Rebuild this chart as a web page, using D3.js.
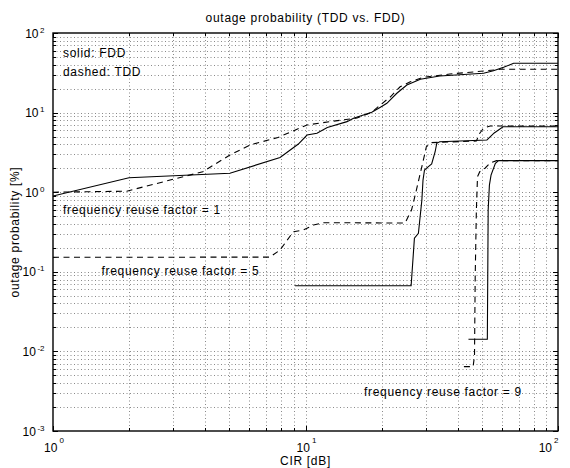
<!DOCTYPE html>
<html><head><meta charset="utf-8">
<script src="https://cdn.jsdelivr.net/npm/d3@7"></script>
<style>
body{margin:0;background:#fff}
text{font-family:"Liberation Sans",Arial,Helvetica,sans-serif;fill:#000}
</style>
</head><body><svg id="c" width="570" height="468"></svg>
<script>
// ---- data (CIR [dB] vs outage probability [%]) ----
const fdd1_cir = [1, 2, 5.02, 7.93, 9.37, 10.14, 11.1, 12.2, 14.6, 15.5, 18.3, 19.8, 21.0, 23.0, 25.2, 28.5, 34.0, 50.7, 55.5, 60.9, 66.7, 100];
const fdd1_out = [0.895, 1.52, 1.73, 2.73, 4.03, 5.23, 5.5, 6.5, 7.7, 8.47, 10.1, 11.7, 13.1, 17.5, 22.2, 26.2, 28.8, 31.2, 33.6, 37.1, 41.6, 41.6];

const tdd1_cir = [1, 1.96, 3.92, 5.02, 6.03, 7.78, 10.14, 12.5, 16.0, 18.3, 19.8, 21.7, 23.7, 26.0, 29.2, 37.3, 52.3, 59.1, 100];
const tdd1_out = [1.0, 1.03, 1.81, 2.93, 3.92, 4.87, 6.98, 7.7, 8.55, 10.1, 12.5, 15.8, 21.1, 24.4, 27.7, 30.5, 33.6, 35.0, 35.0];

const fdd5_cir = [9.09, 26.2, 27.0, 28.0, 28.9, 29.2, 29.6, 30.5, 31.6, 32.6, 33.1, 34.0, 52.3, 55.9, 60.6, 100];
const fdd5_out = [0.0668, 0.0668, 0.264, 0.305, 0.798, 1.42, 1.9, 2.07, 2.26, 3.2, 4.11, 4.3, 4.53, 5.55, 6.65, 6.65];

const tdd5_cir = [1, 7.23, 7.93, 8.95, 9.8, 10.76, 11.8, 24.8, 26.3, 27.5, 29.3, 30.1, 31.6, 47.5, 49.0, 50.7, 53.9, 100];
const tdd5_out = [0.152, 0.153, 0.188, 0.319, 0.335, 0.387, 0.414, 0.41, 0.597, 1.07, 2.54, 3.73, 4.2, 4.4, 5.5, 6.36, 6.8, 6.8];

const fdd9_cir = [44.2, 52.5, 52.9, 53.5, 54.3, 56.5, 58.2, 100];
const fdd9_out = [0.0142, 0.0142, 0.597, 1.23, 1.64, 2.31, 2.49, 2.49];

const tdd9_cir = [42.4, 46.1, 46.7, 47.0, 47.5, 48.0, 49.0, 51.4, 53.9, 57.1, 100];
const tdd9_out = [0.00643, 0.00643, 0.00875, 0.087, 0.597, 1.57, 1.81, 2.0, 2.33, 2.49, 2.49];

const xTickExp = [0, 1, 2];
const yTickExp = [-3, -2, -1, 0, 1, 2];

const titleText = "outage probability (TDD vs. FDD)";
const xLabelText = "CIR [dB]";
const yLabelText = "outage probability [%]";
const noteTexts = ["solid: FDD", "dashed: TDD"];
const reuseTexts = ["frequency reuse factor = 1", "frequency reuse factor = 5", "frequency reuse factor = 9"];

// ---- layout ----
const L = 53, R = 558, T = 33, B = 431;
const svg = d3.select("#c");
const x = d3.scaleLog().domain([1, 100]).range([L, R]);
const y = d3.scaleLog().domain([1e-3, 1e2]).range([B, T]);

const isMajor = v => Math.abs(Math.log10(v) - Math.round(Math.log10(v))) < 1e-9;
const cr = v => Math.round(v) + 0.5;

// grid
const g = svg.append("g").attr("stroke", "#8a8a8a").attr("stroke-width", 1).attr("stroke-dasharray", "1,2.5");
x.ticks().filter(v => v > 1 && v < 100).forEach(v => {
  g.append("line").attr("x1", cr(x(v))).attr("x2", cr(x(v))).attr("y1", T).attr("y2", B);
});
y.ticks().filter(v => v > 1e-3 * 1.0001 && v < 100 / 1.0001).forEach(v => {
  g.append("line").attr("y1", cr(y(v))).attr("y2", cr(y(v))).attr("x1", L).attr("x2", R);
});

// ticks (inward, all four sides)
const tk = svg.append("g").attr("stroke", "#000").attr("stroke-width", 1);
x.ticks().forEach(v => {
  const len = isMajor(v) ? 5 : 3, px = cr(x(v));
  tk.append("line").attr("x1", px).attr("x2", px).attr("y1", B).attr("y2", B - len);
  tk.append("line").attr("x1", px).attr("x2", px).attr("y1", T).attr("y2", T + len);
});
y.ticks().forEach(v => {
  const len = isMajor(v) ? 5 : 3, py = cr(y(v));
  tk.append("line").attr("y1", py).attr("y2", py).attr("x1", L).attr("x2", L + len);
  tk.append("line").attr("y1", py).attr("y2", py).attr("x1", R).attr("x2", R - len);
});

// curves
svg.append("clipPath").attr("id", "clip").append("rect")
  .attr("x", L).attr("y", T).attr("width", R - L).attr("height", B - T);
const line = d3.line().x(d => x(d[0])).y(d => y(d[1]));
const series = [
  [fdd1_cir, fdd1_out, false], [tdd1_cir, tdd1_out, true],
  [fdd5_cir, fdd5_out, false], [tdd5_cir, tdd5_out, true],
  [fdd9_cir, fdd9_out, false], [tdd9_cir, tdd9_out, true]
];
const cg = svg.append("g").attr("clip-path", "url(#clip)");
series.forEach(([cx, cy, dashed]) => {
  cg.append("path").datum(d3.zip(cx, cy)).attr("d", line)
    .attr("fill", "none").attr("stroke", "#000").attr("stroke-width", 1.1)
    .attr("stroke-dasharray", dashed ? "6,4.5" : null);
});

// box
svg.append("rect").attr("x", L).attr("y", T).attr("width", R - L).attr("height", B - T)
  .attr("fill", "none").attr("stroke", "#000").attr("stroke-width", 1.4);

// tick labels
yTickExp.forEach(e => {
  const t = svg.append("text").attr("x", L - 8.5).attr("y", y(Math.pow(10, e)) + 4.5)
    .attr("text-anchor", "end").attr("font-size", 12);
  t.append("tspan").text("10");
  t.append("tspan").attr("dx", 1.5).attr("dy", -5).attr("font-size", 8).text(e);
});
xTickExp.forEach((e, i) => {
  const px = x(Math.pow(10, e));
  const last = i === xTickExp.length - 1;
  const t = svg.append("text").attr("x", last ? px + 0.5 : px + 1).attr("y", 452)
    .attr("text-anchor", last ? "end" : "middle").attr("font-size", 12);
  t.append("tspan").text("10");
  t.append("tspan").attr("dx", 2).attr("dy", -9.5).attr("font-size", 8).text(e);
});

// titles
const txt = (s, xx, yy, anchor) => svg.append("text").attr("x", xx).attr("y", yy)
  .attr("text-anchor", anchor || "start").attr("font-size", 12).attr("letter-spacing", 0.7).text(s);
txt(titleText, (L + R) / 2, 22, "middle");
txt(xLabelText, (L + R) / 2, 465, "middle");
svg.append("text").attr("transform", `translate(19,${(T + B) / 2}) rotate(-90)`)
  .attr("text-anchor", "middle").attr("font-size", 12).attr("letter-spacing", 0.7).text(yLabelText);

// annotations
txt(noteTexts[0], 63, 57);
txt(noteTexts[1], 63, 76);
txt(reuseTexts[0], 63, 213.5);
txt(reuseTexts[1], 101.5, 274.5);
txt(reuseTexts[2], 364, 396);
</script>
</body></html>
